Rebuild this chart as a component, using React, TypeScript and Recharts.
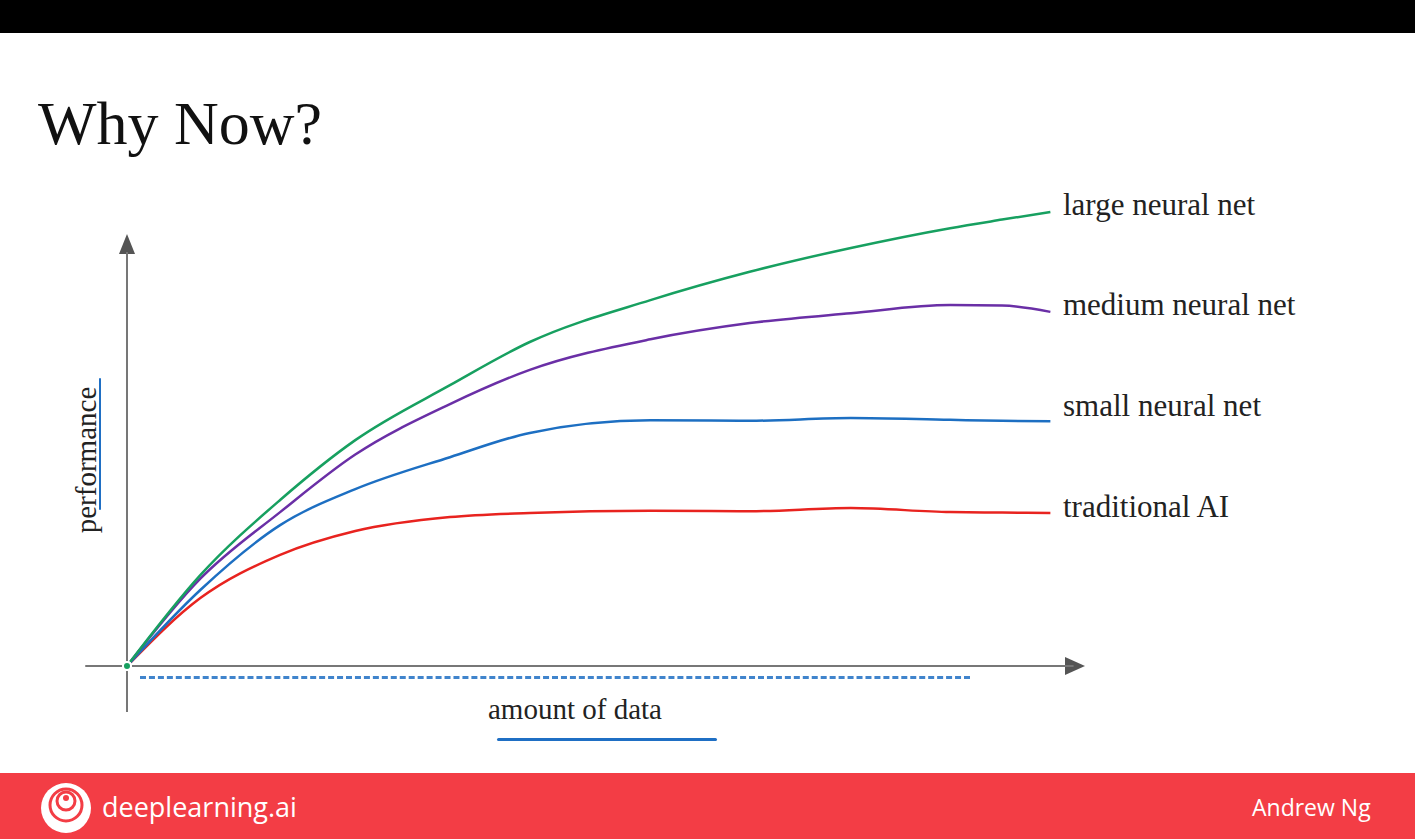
import { LineChart, Line, XAxis, YAxis, ReferenceLine } from "recharts";

// x positions of samples (0 = origin, 100 = right end of curves)
const xs = [0, 7.9, 16.5, 24.6, 34.8, 43.4, 56.4, 67.1, 78, 88.7, 94.3, 99.5];
const largeNet = [0, 20.2, 36.9, 50.2, 62.4, 72, 81.3, 87.6, 92.9, 97.3, 99.2, 100.9];
const mediumNet = [0, 19.4, 34.2, 47, 58.2, 65.8, 72.6, 76.2, 78.4, 80.2, 80.1, 78.7];
const smallNet = [0, 16.9, 31.3, 39.3, 46.4, 51.8, 54.6, 54.5, 55.1, 54.7, 54.5, 54.4];
const traditional = [0, 15.1, 24.7, 30, 33.1, 34, 34.5, 34.4, 35.1, 34.2, 34.1, 34];

const labels = ["large neural net", "medium neural net", "small neural net", "traditional AI"];
const labelTops = [207, 307, 408, 509];

const data = xs.map((x, i) => ({
  x,
  large: largeNet[i],
  medium: mediumNet[i],
  small: smallNet[i],
  trad: traditional[i],
}));

const serif = "'DejaVu Serif', 'Liberation Serif', serif";

export default function App() {
  return (
    <div style={{ position: "fixed", left: 0, top: 0, width: 1415, height: 839, background: "#fff", overflow: "hidden" }}>
      <div style={{ position: "absolute", left: 0, top: 0, width: 1415, height: 33, background: "#000" }} />
      <div style={{ position: "absolute", left: 38, top: 88, fontFamily: "'Liberation Serif', serif", fontSize: 62, color: "#111" }}>Why Now?</div>
      {labels.map((l, i) => (
        <div key={l} style={{ position: "absolute", left: 1063, top: labelTops[i] - 20, fontFamily: "'Liberation Serif', serif", fontSize: 31, color: "#222" }}>{l}</div>
      ))}
      <div style={{ position: "absolute", left: 86, top: 460, transform: "translate(-50%,-50%) rotate(-90deg)", fontFamily: "'Liberation Serif', serif", fontSize: 29, color: "#222", whiteSpace: "nowrap" }}>performance</div>
      <div style={{ position: "absolute", left: 99, top: 378, width: 2, height: 132, background: "#1f6fc4", borderRadius: 2 }} />
      <div style={{ position: "absolute", left: 488, top: 693, fontFamily: "'Liberation Serif', serif", fontSize: 29, color: "#222" }}>amount of data</div>
      <div style={{ position: "absolute", left: 497, top: 738, width: 220, height: 3, background: "#1f6fc4", borderRadius: 2 }} />
      <div style={{ position: "absolute", left: 140, top: 676, width: 830, height: 0, borderTop: "3px dashed #1f6fc4", opacity: 0.85 }} />
      <div style={{ position: "absolute", left: 0, top: 773, width: 1415, height: 66, background: "#f33d45" }}>
        <svg width={60} height={60} style={{ position: "absolute", left: 36, top: 5 }}>
          <circle cx={30} cy={30} r={25} fill="#fff" />
          <circle cx={30} cy={27} r={16} fill="none" stroke="#f33d45" strokeWidth={3} />
          <circle cx={30} cy={23} r={9} fill="none" stroke="#f33d45" strokeWidth={3} />
          <circle cx={30} cy={20} r={3} fill="#f33d45" />
        </svg>
        <div style={{ position: "absolute", left: 102, top: 15, color: "#fff", fontFamily: "'Open Sans', sans-serif", fontSize: 27 }}>deeplearning.ai</div>
        <div style={{ position: "absolute", left: 1252, top: 18, color: "#fff", fontFamily: "'Open Sans', sans-serif", fontSize: 23 }}>Andrew Ng</div>
      </div>
      <svg width={1415} height={839} style={{ position: "absolute", left: 0, top: 0 }}>
        <polygon points="127,234 119,254 135,254" fill="#555" />
        <polygon points="1085,666 1065,657 1065,675" fill="#555" />
      </svg>
      <div style={{ position: "absolute", left: 0, top: 0 }}>
        <LineChart width={1415} height={839} data={data} margin={{ top: 0, right: 0, bottom: 0, left: 0 }}>
          <XAxis dataKey="x" type="number" domain={[-13.685, 138.79]} hide allowDataOverflow />
          <YAxis type="number" domain={[-38.44, 148]} hide allowDataOverflow />
          <ReferenceLine segment={[{ x: -4.5, y: 0 }, { x: 102, y: 0 }]} stroke="#777" strokeWidth={2} />
          <ReferenceLine segment={[{ x: 0, y: -10.2 }, { x: 0, y: 92 }]} stroke="#777" strokeWidth={2} />
          <Line dataKey="trad" type="monotone" stroke="#e8231f" strokeWidth={2.5} dot={false} isAnimationActive={false} />
          <Line dataKey="small" type="monotone" stroke="#1d6fc2" strokeWidth={2.5} dot={false} isAnimationActive={false} />
          <Line dataKey="medium" type="monotone" stroke="#6a2fa6" strokeWidth={2.5} dot={false} isAnimationActive={false} />
          <Line dataKey="large" type="monotone" stroke="#17a060" strokeWidth={2.5} dot={false} isAnimationActive={false} />
        </LineChart>
      </div>
    </div>
  );
}
